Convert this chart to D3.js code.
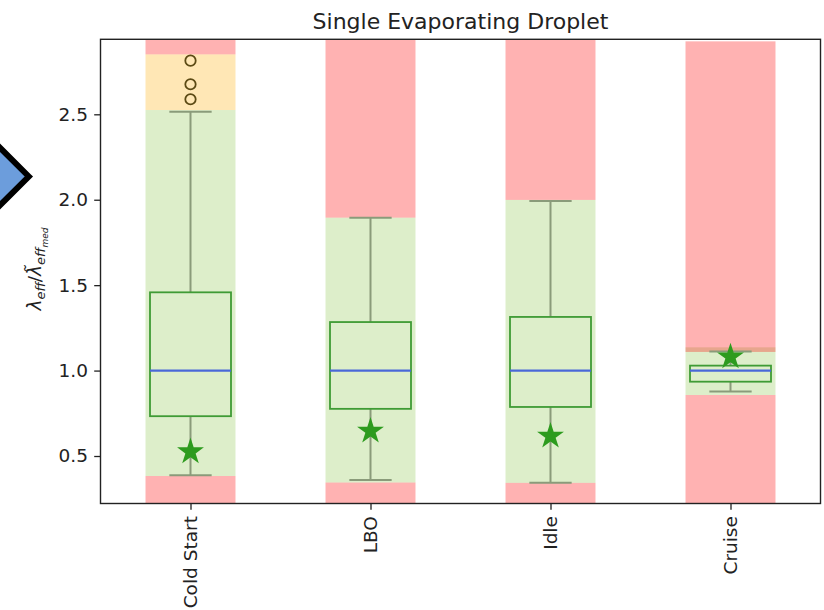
<!DOCTYPE html>
<html><head><meta charset="utf-8">
<script src="https://cdn.jsdelivr.net/npm/d3@7"></script>
<style>body{margin:0;background:#fff}</style>
</head><body><svg id="chart" width="824" height="610"></svg>
<script>
// Operating conditions
const categories = ["Cold Start", "LBO", "Idle", "Cruise"];

// Box statistics of lambda_eff / median lambda_eff
const q1 = [0.733, 0.776, 0.787, 0.935];
const median = [1.0, 1.0, 1.0, 1.0];
const q3 = [1.458, 1.284, 1.314, 1.029];
const whiskerLow = [0.387, 0.36, 0.343, 0.877];
const whiskerHigh = [2.515, 1.895, 1.993, 1.111];
const outliers = [[2.814, 2.676, 2.588], [], [], []];

// Single evaporating droplet value (star marker)
const dropletValue = [0.525, 0.646, 0.617, 1.08];

// Acceptance bands
const greenLow = [0.383, 0.345, 0.343, 0.857];
const greenHigh = [2.525, 1.895, 1.999, 1.136];
const yellowHigh = [2.851, null, null, null];
const redHighFrom = [2.851, 1.895, 1.999, 1.109];
const redHighTo = [2.939, 2.939, 2.939, 2.927];

const yDomain = [0.222, 2.939];
const yTicks = [0.5, 1.0, 1.5, 2.0, 2.5];

const svg = d3.select("#chart");
const L = 100.5, R = 820.5, T = 39.3, B = 503.5;
const x = d3.scaleLinear().domain([-0.5, 3.5]).range([L, R]);
const y = d3.scaleLinear().domain(yDomain).range([B, T]);
const unit = x(1) - x(0);
const bandW = 0.5 * unit, boxW = 0.45 * unit, capW = 0.235 * unit;
const idx = d3.range(categories.length);

// decorative arrow at the left edge
svg.append("path")
  .attr("d", "M28.8,176.5 L-30,117.7 L-88,176.5 L-30,235.3 Z")
  .attr("fill", "#6c9ddc").attr("stroke", "#000").attr("stroke-width", 6)
  .attr("stroke-linejoin", "miter");

const plot = svg.append("g");

function band(i, lo, hi, color) {
  plot.append("rect")
    .attr("x", x(i) - bandW / 2).attr("width", bandW)
    .attr("y", y(hi)).attr("height", y(lo) - y(hi))
    .attr("fill", color);
}
const RED = "rgba(255,0,0,0.3)", GREEN = "rgba(142,198,78,0.3)", YELLOW = "rgba(255,175,10,0.3)";
idx.forEach(i => {
  band(i, yDomain[0], greenLow[i], RED);
  band(i, greenLow[i], greenHigh[i], GREEN);
  if (yellowHigh[i] !== null) band(i, greenHigh[i], yellowHigh[i], YELLOW);
  band(i, redHighFrom[i], redHighTo[i], RED);
});

// whiskers, caps, boxes, medians, outliers and droplet markers
const WH = "#8a9b7a";
idx.forEach(i => {
  const cx = x(i);
  [[q3[i], whiskerHigh[i]], [q1[i], whiskerLow[i]]].forEach(([a, b]) => {
    plot.append("line").attr("x1", cx).attr("x2", cx).attr("y1", y(a)).attr("y2", y(b))
      .attr("stroke", WH).attr("stroke-width", 2);
    plot.append("line").attr("x1", cx - capW / 2).attr("x2", cx + capW / 2)
      .attr("y1", y(b)).attr("y2", y(b)).attr("stroke", WH).attr("stroke-width", 2);
  });
  plot.append("rect")
    .attr("x", cx - boxW / 2).attr("width", boxW)
    .attr("y", y(q3[i])).attr("height", y(q1[i]) - y(q3[i]))
    .attr("fill", "none").attr("stroke", "#3f9b35").attr("stroke-width", 1.8);
  plot.append("line").attr("x1", cx - boxW / 2).attr("x2", cx + boxW / 2)
    .attr("y1", y(median[i])).attr("y2", y(median[i]))
    .attr("stroke", "#4a68d8").attr("stroke-width", 2.2);
  outliers[i].forEach(v => {
    plot.append("circle").attr("cx", cx).attr("cy", y(v)).attr("r", 5.2)
      .attr("fill", "none").attr("stroke", "#5c4a14").attr("stroke-width", 1.8);
  });
  plot.append("path")
    .attr("d", d3.symbol(d3.symbolStar, 224)())
    .attr("transform", `translate(${cx},${y(dropletValue[i])})`)
    .attr("fill", "#2d9b1e");
});

// axes
const font = "DejaVu Sans";
const ya = svg.append("g").attr("transform", `translate(${L},0)`)
  .call(d3.axisLeft(y).tickValues(yTicks).tickFormat(d3.format(".1f")).tickSize(6.3).tickPadding(6.3));
ya.select(".domain").remove();
ya.selectAll("line").attr("stroke", "#222").attr("stroke-width", 1.3);
ya.selectAll("text").attr("font-family", font).attr("font-size", 18.5).attr("fill", "#222");

const xa = svg.append("g").attr("transform", `translate(0,${B})`)
  .call(d3.axisBottom(x).tickValues(idx).tickFormat(i => categories[i]).tickSize(6.3).tickPadding(6.3));
xa.select(".domain").remove();
xa.selectAll("line").attr("stroke", "#222").attr("stroke-width", 1.3);
xa.selectAll("text").attr("font-family", font).attr("font-size", 18.5).attr("fill", "#222")
  .attr("transform", "rotate(-90)")
  .attr("text-anchor", "end").attr("x", -12.6).attr("y", 0).attr("dy", "0.35em");

// frame
svg.append("rect").attr("x", L).attr("y", T).attr("width", R - L).attr("height", B - T)
  .attr("fill", "none").attr("stroke", "#222").attr("stroke-width", 1.4);

// title
svg.append("text").attr("x", (L + R) / 2).attr("y", 28.5).attr("text-anchor", "middle")
  .attr("font-family", font).attr("font-size", 22).attr("fill", "#222")
  .text("Single Evaporating Droplet");

// y label: λ_eff / λ̃_eff_med
const yl = svg.append("text").attr("transform", "translate(41,269) rotate(-90)")
  .attr("text-anchor", "middle").attr("font-family", font).attr("font-size", 18.5).attr("fill", "#222");
yl.append("tspan").attr("font-style", "italic").text("λ");
yl.append("tspan").attr("font-style", "italic").attr("font-size", 13).attr("dy", 4).text("eff");
yl.append("tspan").attr("dy", -4).text("/");
yl.append("tspan").attr("font-style", "italic").text("λ\u0303");
yl.append("tspan").attr("font-style", "italic").attr("font-size", 13).attr("dy", 4).text("eff");
yl.append("tspan").attr("font-style", "italic").attr("font-size", 9).attr("dy", 3).text("med");
</script>
</body></html>
